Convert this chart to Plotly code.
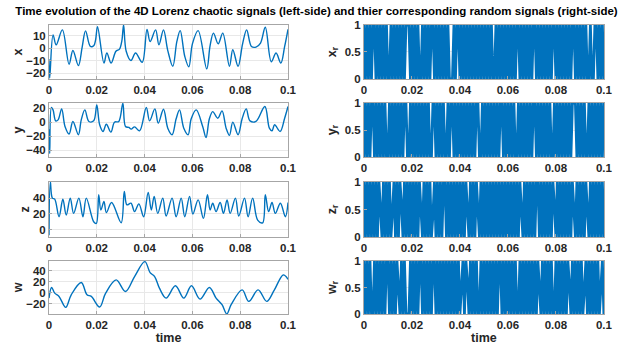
import numpy as np
import plotly.graph_objects as go
from plotly.subplots import make_subplots

# ---------------- chaotic signals (left side) ----------------
t_x = [0, 0.0003, 0.0017, 0.003, 0.0056, 0.0084, 0.010, 0.0123,
       0.0139, 0.0153, 0.0173, 0.0187, 0.0195, 0.0203, 0.023, 0.0242,
       0.026, 0.028, 0.0295, 0.0305, 0.0312, 0.0323, 0.0343, 0.0362,
       0.039, 0.041, 0.0423, 0.0446, 0.046, 0.0479, 0.0497, 0.0518,
       0.0535, 0.0549, 0.0568, 0.0585, 0.060, 0.0624, 0.066, 0.0674,
       0.0688, 0.0708, 0.0727, 0.0755, 0.0769, 0.0791, 0.081, 0.0827,
       0.0847, 0.0866, 0.0885, 0.0905, 0.093, 0.095, 0.097, 0.0986,
       0.1]
x_vals = [-9, -24, 10.6, 2.6, 14.6, -13, -2, -14,
          1, 13.8, 1.3, 1.8, 6.6, 17.2, -12, -4,
          -12, -2.6, -0.8, 6, 18.6, -2.6, -10, -4,
          -11.4, 15, 5.3, 14.6, 2.6, 14.6, -2, -14.6,
          5.3, 14, -6.6, -15, 3.4, 14, -16.7, 1.9,
          12, 3.4, 12, -14.6, -1.3, -14.6, 3.4, 14.6,
          1.3, 0.8, 4, 16.7, -11, -4, -12, 1.3,
          15]

t_y = [0, 0.0003, 0.001, 0.0017, 0.0028, 0.0038, 0.0053, 0.0067,
       0.0084, 0.010, 0.0123, 0.0135, 0.015, 0.0167, 0.0187, 0.020,
       0.0212, 0.0226, 0.024, 0.0259, 0.0274, 0.0292, 0.0309, 0.032,
       0.0334, 0.0344, 0.0358, 0.0379, 0.0407, 0.0421, 0.0443, 0.0457,
       0.0479, 0.0497, 0.0515, 0.0532, 0.0546, 0.0564, 0.0582, 0.0595,
       0.0616, 0.0643, 0.0657, 0.0671, 0.0685, 0.0706, 0.0724, 0.0741,
       0.0755, 0.0769, 0.0791, 0.0808, 0.0825, 0.0841, 0.0866, 0.0903,
       0.0922, 0.0933, 0.0944, 0.0967, 0.0986, 0.1]
y_vals = [-10, -45, 21, 17.6, 1.9, 3.3, 19, -6.2,
          -17, 1, -18, 3.3, 17.6, 1, 1.9, 24.8,
          -3.8, -13.3, -2.9, -14.3, 0, 1, 27, -6.2,
          -7.6, -10, -6.7, -12.4, 21, 1.9, 19, -1.4,
          18.6, -8.6, -18, 4.8, 17.6, -8.6, -18, 4.8,
          17.6, -6.2, -22, 4.8, 15.2, 5.7, 16.2, -8.6,
          -19, 0, -18, 4.8, 19, 1.9, 1, 22.4,
          -8.6, -12.4, -3.8, -13.3, 5.7, 22.4]

t_z = [0, 0.00056, 0.0014, 0.0024, 0.0042, 0.0058, 0.0072, 0.0089,
       0.0103, 0.0125, 0.0142, 0.0156, 0.0187, 0.0198, 0.0208, 0.0217,
       0.023, 0.024, 0.0262, 0.0302, 0.0315, 0.0326, 0.0343, 0.0358,
       0.0376, 0.0396, 0.0415, 0.0428, 0.044, 0.0455, 0.0476, 0.049,
       0.0515, 0.0532, 0.0553, 0.0568, 0.0588, 0.0602, 0.0624, 0.0646,
       0.0663, 0.0674, 0.0685, 0.0699, 0.0716, 0.073, 0.0745, 0.0758,
       0.078, 0.0794, 0.0818, 0.0833, 0.0852, 0.0873, 0.0894, 0.0905,
       0.0919, 0.0933, 0.0947, 0.0968, 0.0989, 0.1]
z_vals = [-7.3, 60.2, 40, 38.7, 16.3, 38.7, 18.5, 40,
          20.6, 40, 16.3, 40, 9.9, 7.7, 44.3, 24.9,
          35.7, 21.5, 34.4, 8.6, 48.6, 31.4, 33.5, 22.8,
          32.7, 16.3, 47.3, 24.9, 42.2, 20.6, 40, 17.2,
          40, 16.3, 40, 16.3, 42.2, 19.8, 37.8, 14.2,
          44.3, 24.9, 33.5, 22.8, 34.4, 20.6, 37.8, 20.6,
          40, 17.2, 40, 16.3, 40, 12, 8.6, 44.3,
          22.8, 34.4, 20.6, 33.5, 16.3, 34.4]

t_w = [0, 0.0011, 0.0024, 0.0042, 0.007, 0.0093, 0.0135, 0.0159,
       0.0177, 0.0212, 0.0237, 0.0281, 0.032, 0.0358, 0.0401, 0.0423,
       0.0442, 0.0462, 0.049, 0.0529, 0.0564, 0.0596, 0.0632, 0.0671,
       0.0699, 0.0724, 0.0744, 0.0762, 0.0808, 0.0836, 0.0875, 0.0911,
       0.0943, 0.098, 0.1]
w_vals = [-9.5, 9.5, -0.6, -6.5, -26.1, -3.6, 18.4, -3.6,
          -6.5, -25.5, -0.6, 23.1, 2.4, 29.1, 55.8, 36.2,
          29.1, 8.3, -9.5, 12.5, -9.5, 12.5, -11.3, 9.5,
          -9.5, -21.4, -38, -21.4, 5.3, -15.4, 5.3, -15.4,
          5.3, 32, 24.3]

# ---------------- random signals (right side) ----------------
xr_vals = [1, 0, 1, 0, 1, 0, 1, 1, 0, 1,
           0, 1, 0, 1, 0, 1, 0, 0, 1, 0,
           1, 0, 1, 0, 1, 0, 1, 0, 1, 1,
           1, 0, 1, 0, 1, 0, 1, 0, 0, 1,
           0, 1, 0, 1, 0, 1, 1, 0, 1, 0,
           1, 0, 1, 0, 1, 0, 1, 0, 0, 0,
           1, 0, 1, 1, 0, 1, 0, 1, 0, 1,
           0, 1, 0, 1, 0, 1, 0, 1, 0, 1,
           0, 1, 0, 1, 0, 1, 0, 0, 1, 0,
           1, 0, 1, 0, 1, 0, 1, 0, 1, 0,
           1, 0, 1, 1, 0, 1, 0, 1, 0, 1,
           0, 1, 0, 1, 1, 0, 1, 0, 1, 0,
           1, 0, 1, 0, 1, 0, 1, 1, 0, 1,
           0, 1, 0, 1, 0, 1, 0, 1, 0, 1,
           1, 0, 1, 0, 1, 0, 1, 0, 1, 0,
           0, 1, 0, 0, 1, 1, 0, 1, 0, 1, 0]

yr_vals = [0, 1, 0, 1, 0, 1, 1, 0, 1, 0,
           1, 0, 1, 0, 1, 0, 0, 1, 0, 1,
           0, 1, 0, 1, 0, 1, 0, 1, 1, 0,
           0, 1, 0, 1, 0, 1, 0, 1, 0, 1,
           0, 1, 0, 1, 0, 0, 1, 1, 0, 1,
           0, 1, 0, 1, 0, 0, 1, 0, 1, 1,
           0, 1, 0, 1, 0, 1, 0, 1, 0, 1,
           0, 1, 0, 1, 0, 1, 1, 0, 0, 1,
           0, 1, 0, 1, 0, 1, 0, 1, 0, 1,
           0, 1, 1, 0, 1, 0, 1, 0, 1, 0,
           1, 0, 0, 1, 0, 1, 0, 1, 0, 1,
           0, 1, 0, 1, 1, 0, 1, 0, 1, 0,
           1, 0, 1, 0, 1, 0, 0, 1, 0, 1,
           0, 1, 0, 1, 0, 1, 0, 1, 0, 1,
           1, 1, 0, 1, 0, 1, 0, 1, 0, 0,
           1, 0, 1, 0, 1, 0, 1, 0, 1, 0, 1]

zr_vals = [1, 0, 1, 0, 1, 0, 1, 0, 1, 0,
           1, .55, 0, 1, 0, 1, 0, 1, 0, .45,
           1, 0, 1, 0, 1, .6, 0, 1, 0, 1,
           0, 1, 0, 1, 0, 1, 0, 1, .5, 0,
           1, 0, 1, 0, 1, 0, .4, 1, 0, 1,
           0, 1, 0, 1, 1, 0, 1, 0, 1, 0,
           1, 0, 1, 0, 1, 0, 1, 0, 1, .55,
           0, 1, 0, 1, 0, 1, .45, 0, 1, 0,
           1, 0, 1, 0, 1, 0, 1, 0, 1, 0,
           1, 0, 1, 0, 1, 0, 1, 0, 1, 0,
           1, 0, 1, 0, 1, .5, 0, 1, 0, 1,
           0, 1, 0, 1, 0, 1, 1, 0, 1, 0,
           1, 0, 1, 0, 1, 0, 1, .6, 0, 1,
           0, 1, 0, 1, 0, 1, 0, 1, 0, 1,
           .45, 0, 1, 0, 1, 0, 1, 0, 1, .55,
           0, 1, 0, 1, 0, 1, 0, 1, 0, 1, 0]

wr_vals = [1, 0, 1, 0, 1, 0, 0, 1, 0, 1,
           0, 1, 0, 1, 0, 1, 1, 0, 1, 0,
           1, 0, 1, .6, 0, 1, 0, 1, 0, 0,
           0, 1, 0, 1, 0, 1, 0, 1, 1, 0,
           1, 0, 1, 0, 1, 0, 1, 1, 0, 1,
           0, 1, 0, 1, 0, 1, 0, 1, 0, 1,
           0, 1, 0, 1, 0, .5, 1, 0, 1, .6,
           0, 1, 0, 1, 0, 1, 0, 0, 1, 0,
           1, 0, 1, 0, 1, 0, 1, 0, 1, 0,
           1, 1, 0, 1, 0, 1, 0, 1, 0, 1,
           0, 1, 0, 0, 1, 0, 1, 0, 1, 0,
           1, 0, 1, 0, 1, 0, 1, .5, 0, 1,
           0, 1, 0, 1, 0, 1, 0, 0, 1, 0,
           1, 0, 1, 0, 1, 0, 1, .55, 0, 1,
           0, 1, 0, 1, 0, 1, 0, .45, 1, 0,
           1, 0, 1, 0, 1, 0, 1, 0, .6, 1, 0]

time_ticks = [0, 0.02, 0.04, 0.06, 0.08, 0.1]
time_labels = ['0', '0.02', '0.04', '0.06', '0.08', '0.1']

left_names = ['x', 'y', 'z', 'w']
right_names = ['x<sub>r</sub>', 'y<sub>r</sub>', 'z<sub>r</sub>', 'w<sub>r</sub>']
left_ticks = [[-20, -10, 0, 10], [-40, -20, 0, 20], [0, 20, 40], [-20, 0, 20, 40]]
left_ranges = [[-24.8, 18.5], [-50, 27.5], [-9.5, 60.5], [-38, 57]]
right_ticks = [0, 0.5, 1]
right_labels = ['0', '0.5', '1']

BLUE = '#0072BD'
FONT = 'Liberation Sans, Arial, sans-serif'

fig = make_subplots(rows=4, cols=2)

left_data = [(t_x, x_vals), (t_y, y_vals), (t_z, z_vals), (t_w, w_vals)]
right_data = [xr_vals, yr_vals, zr_vals, wr_vals]

ydoms = [[0.7743, 0.9286], [0.5514, 0.7057], [0.3229, 0.4800], [0.1029, 0.2543]]
xdom_left = [0.0774, 0.4550]
xdom_right = [0.5750, 0.9540]

for i in range(4):
    t, v = left_data[i]
    fig.add_trace(go.Scatter(x=t, y=v, mode='lines',
                             line=dict(color=BLUE, width=1.4, shape='spline', smoothing=1.0),
                             showlegend=False, hoverinfo='skip'), row=i + 1, col=1)
    fig.update_yaxes(range=left_ranges[i], tickvals=left_ticks[i],
                     title_text=left_names[i], title_standoff=0,
                     domain=ydoms[i], row=i + 1, col=1)
    fig.update_xaxes(domain=xdom_left, row=i + 1, col=1)

    rv = right_data[i]
    tr = np.linspace(0, 0.1, len(rv))
    fig.add_trace(go.Scatter(x=tr, y=rv, mode='lines',
                             line=dict(color=BLUE, width=2.8),
                             showlegend=False, hoverinfo='skip'), row=i + 1, col=2)
    fig.update_yaxes(range=[0, 1], tickvals=right_ticks, ticktext=right_labels,
                     title_text=right_names[i], title_standoff=5,
                     domain=ydoms[i], row=i + 1, col=2)
    fig.update_xaxes(domain=xdom_right, row=i + 1, col=2)

axis_style = dict(automargin=False, showline=True, mirror=True, linecolor='#a6a6a6', linewidth=1,
                  showgrid=True, gridcolor='#e8e8e8', gridwidth=1, zeroline=False,
                  ticks='inside', ticklen=3, tickcolor='#a6a6a6',
                  tickfont=dict(family=FONT, size=11.5, color='#262626', weight='bold'),
                  title_font=dict(family=FONT, size=12.5, color='#262626', weight='bold'))
fig.update_xaxes(range=[0, 0.1], tickvals=time_ticks, ticktext=time_labels, **axis_style)
fig.update_yaxes(**axis_style)
fig.update_xaxes(title_text='time', title_standoff=2, row=4, col=1)
fig.update_xaxes(title_text='time', title_standoff=2, row=4, col=2)

fig.update_layout(
    template='none',
    width=633, height=350,
    margin=dict(l=0, r=0, t=0, b=0, autoexpand=False),
    paper_bgcolor='white', plot_bgcolor='white',
    title=dict(text='Time evolution of the 4D Lorenz chaotic signals (left-side) and thier corresponding random signals (right-side)',
               x=0.5, xanchor='center', y=0.968, yanchor='middle', yref='container',
               font=dict(family=FONT, size=11.5, color='#000000', weight='bold')),
)

fig.write_html('out.html', config={'displayModeBar': False},
               post_script="document.body.style.margin='0px';")
